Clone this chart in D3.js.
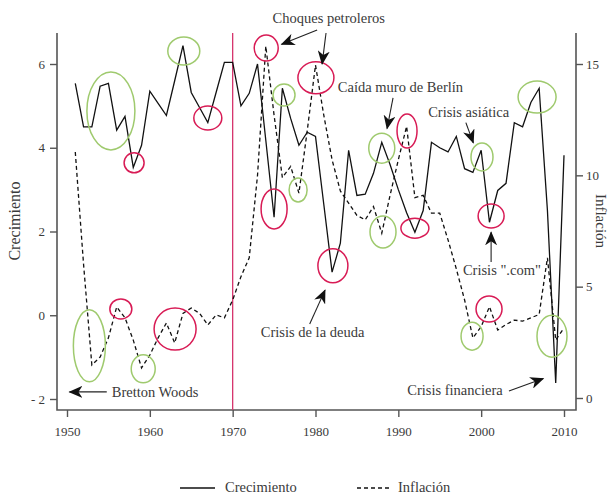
<!DOCTYPE html>
<html><head><meta charset="utf-8">
<script src="https://cdn.jsdelivr.net/npm/d3@7"></script>
<style>body{margin:0;background:#fff}svg{display:block}text{font-family:"Liberation Serif",serif;fill:#3a3a3a}</style>
</head><body><svg id="c" width="611" height="495"></svg>
<script>
const years = d3.range(1951, 2011);
const growth = [5.54,4.5,4.5,5.47,5.54,4.42,4.75,3.53,4.06,5.35,
  5.06,4.77,5.6,6.44,5.32,4.96,4.6,5.32,6.04,6.04,
  5.0,5.3,6.0,4.18,2.34,5.42,4.7,4.06,4.37,4.27,
  2.65,1.03,1.72,3.94,2.86,2.89,3.39,4.13,3.6,3.0,
  2.45,1.98,2.5,4.13,4.0,3.9,4.27,3.5,3.41,3.94,
  2.22,2.98,3.15,4.6,4.5,5.08,5.42,2.5,-1.62,3.82];
const inflation = [11.05,6.0,1.48,1.84,2.7,4.09,3.6,2.6,1.35,1.93,
  2.7,3.37,2.47,3.8,4.04,3.8,3.28,3.73,3.6,4.4,
  5.45,6.3,10.0,15.8,12.7,9.9,10.4,9.2,12.0,14.95,
  12.7,10.7,9.3,8.75,8.2,8.0,8.6,7.4,9.1,10.7,
  12.2,9.0,9.1,8.3,8.3,7.1,5.8,4.4,2.7,3.2,
  4.1,3.05,3.3,3.5,3.45,3.6,3.75,6.3,2.6,3.15];
const xTicks = [1950,1960,1970,1980,1990,2000,2010];
const leftTicks = [-2,0,2,4,6];
const rightTicks = [0,5,10,15];
const markerYear = 1970;
// annotation circles: [year, growth-axis value, rx, ry, kind]
const circles = [
  [1955.3,4.88,24,39,"g"],[1964.1,6.31,16,14,"g"],[1952.7,-0.73,16,36,"g"],[1959.2,-1.28,12,14,"g"],
  [1976.2,5.26,11,11,"g"],[1977.9,2.99,9,12,"g"],[1988.0,3.99,13,15,"g"],[1988.15,1.99,13,16,"g"],
  [2000.1,3.78,11,14,"g"],[2006.75,5.21,19,16,"g"],[1998.9,-0.5,11,14,"g"],[2008.55,-0.5,15,21,"g"],
  [1958.1,3.64,10,10,"r"],[1967.0,4.71,14,12,"r"],[1956.5,0.15,11,10,"r"],[1963.05,-0.33,21,21,"r"],
  [1974.05,6.38,12,13,"r"],[1980.05,5.67,18,16,"r"],[1975.0,2.54,13,20,"r"],[1982.1,1.18,15,17,"r"],
  [1991.05,4.40,10,17,"r"],[1992.0,2.08,14,10,"r"],[2001.2,2.37,13,12,"r"],[2000.95,0.15,13,13,"r"]];
// labels: [text, year, value, anchor]
const labels = [
  ["Choques petroleros",1981.6,6.98,"middle"],
  ["Caída muro de Berlín",1982.7,5.33,"start"],
  ["Crisis asiática",1993.6,4.74,"start"],
  ["Crisis \".com\"",1997.8,0.95,"start"],
  ["Crisis financiera",2002.6,-1.90,"end"],
  ["Crisis de la deuda",1973.4,-0.53,"start"],
  ["Bretton Woods",1955.4,-1.95,"start"]];
// arrows: [year1, v1, year2, v2] (head at second point)
const arrows = [
  [1980.2,6.81,1975.9,6.47],[1981.27,6.74,1980.8,6.0],
  [1989.36,5.19,1988.64,4.46],[1998.15,4.6,1999.05,4.12],
  [2001.2,1.27,2001.2,1.98],[2003.35,-1.81,2007.5,-1.51],
  [1979.3,-0.21,1981.15,0.6],[1954.8,-1.83,1950.3,-1.83]];

const svg = d3.select("#c");
const F = {l:57, r:576, t:33, b:410};
const x = d3.scaleLinear().domain([1950,2010]).range([67,564]);
const yL = d3.scaleLinear().domain([-2,6]).range([399,64]);
const yR = d3.scaleLinear().domain([0,15]).range([398,64]);
const axisCol = "#555";

svg.append("defs").append("marker").attr("id","ah").attr("markerUnits","userSpaceOnUse")
  .attr("markerWidth",16).attr("markerHeight",12).attr("refX",13).attr("refY",6).attr("orient","auto")
  .append("path").attr("d","M0,0 L14,6 L0,12 L4,6 Z").attr("fill","#111");

// frame
svg.append("path").attr("d",`M${F.l},${F.t}V${F.b}H${F.r}V${F.t}`).attr("fill","none")
  .attr("stroke",axisCol).attr("stroke-width",1.6);

const gL = svg.append("g").attr("transform",`translate(${F.l},0)`)
  .call(d3.axisLeft(yL).tickValues(leftTicks).tickSize(7).tickPadding(5)
  .tickFormat(d => d < 0 ? "- " + Math.abs(d) : d));
const gR = svg.append("g").attr("transform",`translate(${F.r},0)`)
  .call(d3.axisRight(yR).tickValues(rightTicks).tickSize(7).tickPadding(3));
const gB = svg.append("g").attr("transform",`translate(0,${F.b})`)
  .call(d3.axisBottom(x).tickValues(xTicks).tickSize(7).tickPadding(10).tickFormat(d3.format("d")));
[gL,gR,gB].forEach(g => {
  g.select(".domain").remove();
  g.selectAll("line").attr("stroke",axisCol).attr("stroke-width",1.4);
  g.selectAll("text").style("font-family","Liberation Serif, serif").style("font-size","13px").attr("fill","#3a3a3a");
});

// 1970 marker
svg.append("line").attr("x1",x(markerYear)).attr("x2",x(markerYear)).attr("y1",F.t).attr("y2",F.b)
  .attr("stroke","#d6336c").attr("stroke-width",1.3);

const lineG = d3.line().x((d,i)=>x(years[i])).y(d=>yL(d));
const lineI = d3.line().x((d,i)=>x(years[i])).y(d=>yR(d));
svg.append("path").datum(inflation).attr("d",lineI).attr("fill","none").attr("stroke","#111")
  .attr("stroke-width",1.3).attr("stroke-dasharray","4,3");
svg.append("path").datum(growth).attr("d",lineG).attr("fill","none").attr("stroke","#111")
  .attr("stroke-width",1.3);

svg.selectAll("ellipse.c").data(circles).join("ellipse")
  .attr("cx",d=>x(d[0])).attr("cy",d=>yL(d[1])).attr("rx",d=>d[2]).attr("ry",d=>d[3])
  .attr("fill","none").attr("stroke",d=>d[4]==="g"?"#9fca6e":"#d81b55").attr("stroke-width",1.5);

svg.selectAll("line.a").data(arrows).join("line")
  .attr("x1",d=>x(d[0])).attr("y1",d=>yL(d[1])).attr("x2",d=>x(d[2])).attr("y2",d=>yL(d[3]))
  .attr("stroke","#222").attr("stroke-width",1.1).attr("marker-end","url(#ah)");

svg.selectAll("text.lab").data(labels).join("text")
  .attr("x",d=>x(d[1])).attr("y",d=>yL(d[2])).attr("text-anchor",d=>d[3])
  .style("font-size","14.5px").text(d=>d[0]);

svg.append("text").attr("transform","translate(20,221) rotate(-90)").attr("text-anchor","middle")
  .style("font-size","16px").text("Crecimiento");
svg.append("text").attr("transform","translate(596,221) rotate(90)").attr("text-anchor","middle")
  .style("font-size","15px").text("Inflación");

// legend
const lg = svg.append("g");
lg.append("line").attr("x1",180).attr("x2",215).attr("y1",488).attr("y2",488).attr("stroke","#111").attr("stroke-width",1.3);
lg.append("text").attr("x",225).attr("y",492).style("font-size","14.5px").text("Crecimiento");
lg.append("line").attr("x1",357).attr("x2",392).attr("y1",488).attr("y2",488).attr("stroke","#111").attr("stroke-width",1.3).attr("stroke-dasharray","4,3");
lg.append("text").attr("x",398).attr("y",492).style("font-size","14.5px").text("Inflación");
</script></body></html>
